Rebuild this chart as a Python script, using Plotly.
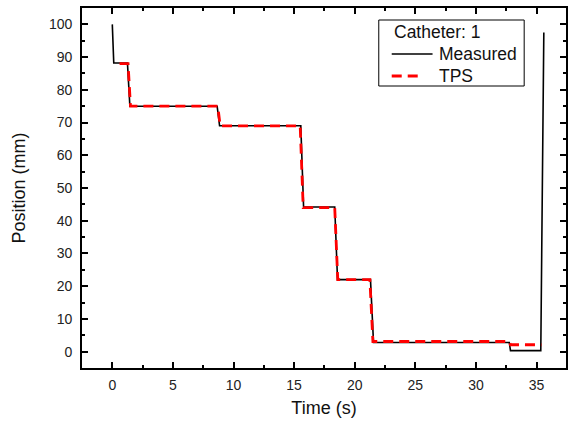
import plotly.graph_objects as go

# Measured source position along catheter 1 (time in s, position in mm)
measured_t = [0.0, 0.05, 0.12, 1.25, 1.35, 1.45, 8.65, 8.75, 8.85, 15.55, 15.65, 15.78,
              18.35, 18.45, 18.58, 21.3, 21.4, 21.55, 24.0, 27.5, 30.0, 32.75, 32.8, 32.85,
              35.35, 35.45, 35.6]
measured_pos = [100.0, 95.0, 88.2, 88.2, 81.0, 75.0, 75.0, 71.0, 69.0, 69.0, 56.0, 44.2,
                44.2, 33.0, 22.0, 22.0, 12.0, 2.8, 2.8, 2.9, 2.8, 2.8, 0.3, 0.3,
                0.3, 50.0, 97.5]

# Planned dwell positions from the treatment planning system
tps_t = [0.6, 1.3, 1.5, 8.7, 8.9, 15.5, 15.75, 18.35, 18.6, 21.25, 21.5, 32.75, 32.85, 35.4]
tps_pos = [88.0, 88.0, 75.0, 75.0, 69.0, 69.0, 44.0, 44.0, 22.0, 22.0, 3.1, 3.1, 2.1, 2.1]

x_ticks = [0, 5, 10, 15, 20, 25, 30, 35]
y_ticks = [0, 10, 20, 30, 40, 50, 60, 70, 80, 90, 100]

legend_title = "Catheter: 1"

font_family = "Liberation Sans, Arial, sans-serif"
W, H = 568, 424
M_L, M_R, M_T, M_B = 82, 0, 8, 56

measured_style = dict(color="black", width=1.6)
tps_style = dict(color="#ff0000", width=2.8, dash="10px,6px")

fig = go.Figure()
fig.add_trace(go.Scatter(x=measured_t, y=measured_pos, mode="lines", name="Measured",
                         line=measured_style, showlegend=False))
fig.add_trace(go.Scatter(x=tps_t, y=tps_pos, mode="lines", name="TPS",
                         line=tps_style, showlegend=False))

axis_common = dict(
    showline=True, linecolor="black", linewidth=1.6, mirror="allticks",
    ticks="inside", ticklen=6, tickwidth=1.5, tickcolor="black",
    showgrid=False, zeroline=False,
    tickfont=dict(family=font_family, size=14, color="#222"),
)

fig.update_xaxes(range=[-2.5, 37.43], tickvals=x_ticks,
                 minor=dict(ticks="inside", ticklen=3.5, tickwidth=1.5, tickcolor="black", dtick=2.5, tick0=0),
                 title=dict(text="Time (s)", font=dict(family=font_family, size=18, color="#111"), standoff=10),
                 ticklabelstandoff=3, **axis_common)
fig.update_yaxes(range=[-5, 105], tickvals=y_ticks,
                 minor=dict(ticks="inside", ticklen=3.5, tickwidth=1.5, tickcolor="black", dtick=5, tick0=0),
                 title=dict(text="Position (mm)", font=dict(family=font_family, size=18, color="#111"), standoff=19),
                 ticklabelstandoff=5, **axis_common)


# Legend box drawn in paper space (pixel offsets converted to paper fractions)
def px(xp):
    return (xp - M_L) / (W - M_L - M_R)


def py(yp):
    return (H - M_B - yp) / (H - M_T - M_B)


shapes = [dict(type="rect", xref="paper", yref="paper",
               x0=px(380), x1=px(526), y0=py(86), y1=py(20),
               line=dict(color="black", width=1), fillcolor="white", layer="above")]
annotations = [dict(text=legend_title, xref="paper", yref="paper", x=px(393), y=py(32),
                    xanchor="left", yanchor="middle", showarrow=False,
                    font=dict(family=font_family, size=17.5, color="#111"))]

entries = [("Measured", measured_style, 393, 434, 54),
           ("TPS", tps_style, 393, 421, 76)]
for name, style, x0, x1, yc in entries:
    shapes.append(dict(type="line", xref="paper", yref="paper",
                       x0=px(x0), x1=px(x1), y0=py(yc), y1=py(yc),
                       line=dict(color=style["color"], width=style["width"],
                                 dash=style.get("dash", "solid")), layer="above"))
    annotations.append(dict(text=name, xref="paper", yref="paper", x=px(438), y=py(yc),
                            xanchor="left", yanchor="middle", showarrow=False,
                            font=dict(family=font_family, size=17.5, color="#111")))

fig.update_layout(
    width=W, height=H,
    margin=dict(l=M_L, r=M_R, t=M_T, b=M_B),
    paper_bgcolor="white", plot_bgcolor="white",
    showlegend=False,
    shapes=shapes,
    annotations=annotations,
)

fig.write_html("out.html")
